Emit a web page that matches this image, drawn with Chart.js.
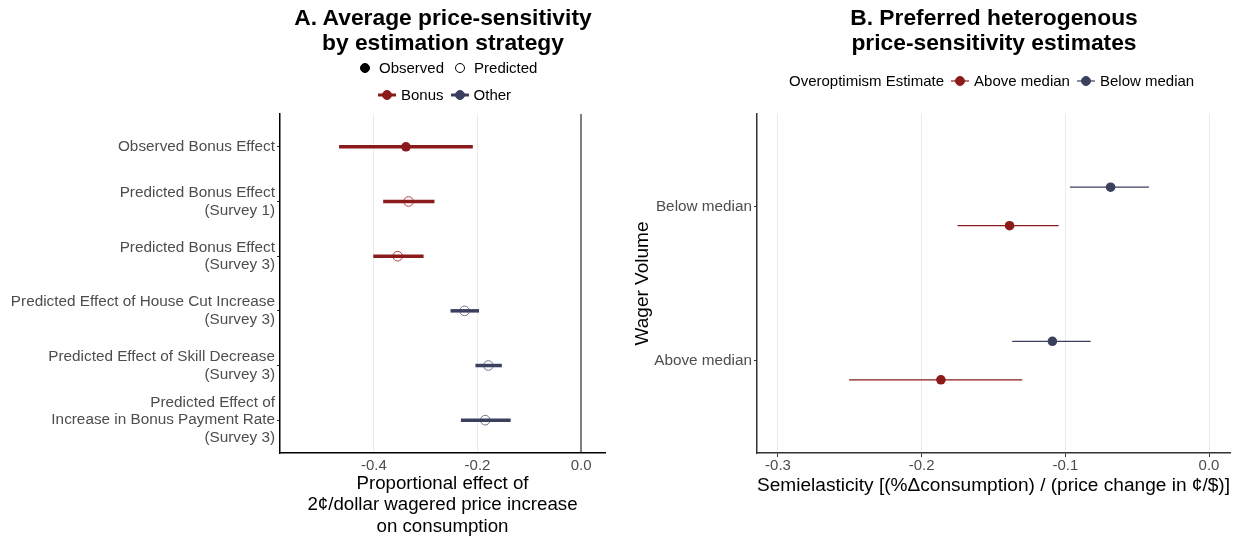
<!DOCTYPE html>
<html>
<head>
<meta charset="utf-8">
<script src="https://cdn.jsdelivr.net/npm/chart.js@4.4.1/dist/chart.umd.min.js"></script>
<style>
  body{margin:0;background:#fff;font-family:"Liberation Sans",Arial,sans-serif;}
  #wrap{position:relative;width:1239px;height:537px;overflow:hidden;}
  canvas{position:absolute;top:0;}
  .title{position:absolute;font-weight:bold;font-size:22.8px;line-height:25px;text-align:center;color:#000;}
  .legend{position:absolute;font-size:15px;color:#000;white-space:nowrap;display:flex;align-items:center;}
  .legend svg{margin:0 4px 0 0;}
  .legend span{margin-right:6px;}
</style>
</head>
<body>
<div id="wrap">
  <canvas id="leftChart" width="620" height="537" style="left:0"></canvas>
  <canvas id="rightChart" width="619" height="537" style="left:620px"></canvas>

  <div class="title" style="left:243px;width:400px;top:5px;">A. Average price-sensitivity<br>by estimation strategy</div>
  <div class="title" style="left:794px;width:400px;top:5px;">B. Preferred heterogenous<br>price-sensitivity estimates</div>

  <div class="legend" id="legType" style="left:355px;top:59px;"></div>
  <div class="legend" id="legGroup" style="left:377px;top:86px;"></div>
  <div class="legend" id="legOver" style="left:789px;top:72px;"></div>
</div>
<script>
// ---------- data ----------
// panel A
const rowLabels=[
  ['Observed Bonus Effect'],
  ['Predicted Bonus Effect','(Survey 1)'],
  ['Predicted Bonus Effect','(Survey 3)'],
  ['Predicted Effect of House Cut Increase','(Survey 3)'],
  ['Predicted Effect of Skill Decrease','(Survey 3)'],
  ['Predicted Effect of','Increase in Bonus Payment Rate','(Survey 3)']
];
const rowGroup=['Bonus','Bonus','Bonus','Other','Other','Other'];
const rowType=['Observed','Predicted','Predicted','Predicted','Predicted','Predicted'];
const rowEst=[-0.338,-0.333,-0.354,-0.225,-0.179,-0.185];
const rowLo=[-0.467,-0.382,-0.401,-0.252,-0.204,-0.232];
const rowHi=[-0.209,-0.283,-0.304,-0.197,-0.153,-0.136];
const ticksA=[-0.4,-0.2,0.0];

// panel B
const wagerCats=['Above median','Below median'];
const overCats=['Above median','Below median'];
const estAbove=[-0.1866,-0.1388];
const loAbove=[-0.2505,-0.175];
const hiAbove=[-0.130,-0.1047];
const estBelow=[-0.109,-0.0685];
const loBelow=[-0.137,-0.0968];
const hiBelow=[-0.0824,-0.0418];
const ticksB=[-0.3,-0.2,-0.1,0.0];

const RED='#8b1a1a';
const NAVY='#3b405e';
const groupColor={Bonus:RED,Other:NAVY};
const FONT='"Liberation Sans", Arial, sans-serif';
Chart.defaults.font.family=FONT;

// ---------- legends ----------
function key(color,filled,withLine,lw){
  let s='<svg width="20" height="14">';
  if(withLine)s+=`<line x1="1" y1="7" x2="19" y2="7" stroke="${color}" stroke-width="${lw||3}"/>`;
  s+=`<circle cx="10" cy="7" r="4.5" fill="${filled?color:'#fff'}" stroke="${color}" stroke-width="1"/>`;
  return s+'</svg>';
}
document.getElementById('legType').innerHTML=
  key('#000',true,false)+'<span>Observed</span>'+key('#000',false,false)+'<span>Predicted</span>';
document.getElementById('legGroup').innerHTML=
  key(RED,true,true)+'<span>Bonus</span>'+key(NAVY,true,true)+'<span>Other</span>';
document.getElementById('legOver').innerHTML=
  '<span style="margin-right:6px">Overoptimism Estimate</span>'+
  key(RED,true,true,1.2)+'<span>'+overCats[0]+'</span>'+
  key(NAVY,true,true,1.2)+'<span>'+overCats[1]+'</span>';

// ---------- panel A ----------
const dsA=[];
rowEst.forEach((v,i)=>{
  dsA.push({
    type:'line',
    data:[{x:rowLo[i],y:i+1},{x:rowHi[i],y:i+1}],
    borderColor:groupColor[rowGroup[i]],
    borderWidth:3.5,
    pointRadius:0,
    borderCapStyle:'butt'
  });
});
dsA.push({
  type:'scatter',
  data:rowEst.map((v,i)=>({x:v,y:i+1})),
  pointRadius:4.8,
  pointBorderWidth:rowType.map(t=>t==='Observed'?0:1),
  pointBackgroundColor:rowType.map((t,i)=>t==='Observed'?groupColor[rowGroup[i]]:'rgba(0,0,0,0)'),
  pointBorderColor:rowGroup.map(g=>g==='Bonus'?'rgba(175,70,70,1)':'rgba(110,115,145,1)')
});

new Chart(document.getElementById('leftChart'),{
  type:'scatter',
  data:{datasets:dsA},
  options:{
    responsive:false,animation:false,devicePixelRatio:1,
    layout:{padding:{top:114,right:15,left:0,bottom:0}},
    plugins:{legend:{display:false},tooltip:{enabled:false}},
    scales:{
      x:{
        type:'linear',min:-0.581,max:0.046,
        afterBuildTicks:s=>{s.ticks=ticksA.map(v=>({value:v}));},
        afterFit:s=>{s.height=84;},
        ticks:{color:'#4d4d4d',font:{size:15},padding:0,callback:v=>v.toFixed(1)},
        grid:{
          color:c=>c.tick&&c.tick.value===0?'#7f7f7f':'#ebebeb',
          lineWidth:c=>c.tick&&c.tick.value===0?2:1,
          tickLength:4,tickColor:'#ffffff'
        },
        border:{display:true,color:'#000',width:1.5},
        title:{display:true,text:['Proportional effect of','2¢/dollar wagered price increase','on consumption'],
          color:'#000',font:{size:18.7,lineHeight:1.13},padding:{top:0,bottom:0}}
      },
      y:{
        type:'linear',min:0.4,max:6.6,reverse:true,
        afterBuildTicks:s=>{s.ticks=rowLabels.map((l,i)=>({value:i+1}));},
        afterFit:s=>{s.width=280;},
        ticks:{color:'#4d4d4d',font:{size:15.3,lineHeight:1.15},padding:2,
          callback:v=>rowLabels[Math.round(v)-1]},
        grid:{drawOnChartArea:false,tickLength:3,color:'#333'},
        border:{display:true,color:'#000',width:1.5}
      }
    }
  }
});

// ---------- panel B ----------
const DODGE=0.125;
const dsB=[];
function addSeries(est,lo,hi,color,off){
  est.forEach((v,i)=>{
    dsB.push({
      type:'line',
      data:[{x:lo[i],y:i+1+off},{x:hi[i],y:i+1+off}],
      borderColor:color,borderWidth:1.2,pointRadius:0
    });
  });
  dsB.push({
    type:'scatter',
    data:est.map((v,i)=>({x:v,y:i+1+off})),
    pointRadius:4.8,pointBorderWidth:0,
    pointBackgroundColor:color
  });
}
addSeries(estAbove,loAbove,hiAbove,RED,-DODGE);
addSeries(estBelow,loBelow,hiBelow,NAVY,DODGE);

new Chart(document.getElementById('rightChart'),{
  type:'scatter',
  data:{datasets:dsB},
  options:{
    responsive:false,animation:false,devicePixelRatio:1,
    layout:{padding:{top:114,right:9,left:0,bottom:0}},
    plugins:{legend:{display:false},tooltip:{enabled:false}},
    scales:{
      x:{
        type:'linear',min:-0.3146,max:0.0146,
        afterBuildTicks:s=>{s.ticks=ticksB.map(v=>({value:v}));},
        afterFit:s=>{s.height=84;},
        ticks:{color:'#4d4d4d',font:{size:15},padding:0,callback:v=>v.toFixed(1)},
        grid:{color:'#ebebeb',lineWidth:1,tickLength:4,tickColor:'#333'},
        border:{display:true,color:'#333',width:1.5},
        title:{display:true,text:'Semielasticity [(%Δconsumption) / (price change in ¢/$)]',
          color:'#000',font:{size:19.2},padding:{top:0,bottom:40}}
      },
      y:{
        type:'linear',min:0.4,max:2.6,
        afterBuildTicks:s=>{s.ticks=wagerCats.map((c,i)=>({value:i+1}));},
        afterFit:s=>{s.width=137;},
        ticks:{color:'#4d4d4d',font:{size:15.3},padding:2,callback:v=>wagerCats[Math.round(v)-1]},
        grid:{drawOnChartArea:false,tickLength:3,color:'#333'},
        border:{display:true,color:'#333',width:1.5},
        title:{display:true,text:'Wager Volume',color:'#000',font:{size:19},padding:{top:11,bottom:0}}
      }
    }
  }
});
</script>
</body>
</html>
